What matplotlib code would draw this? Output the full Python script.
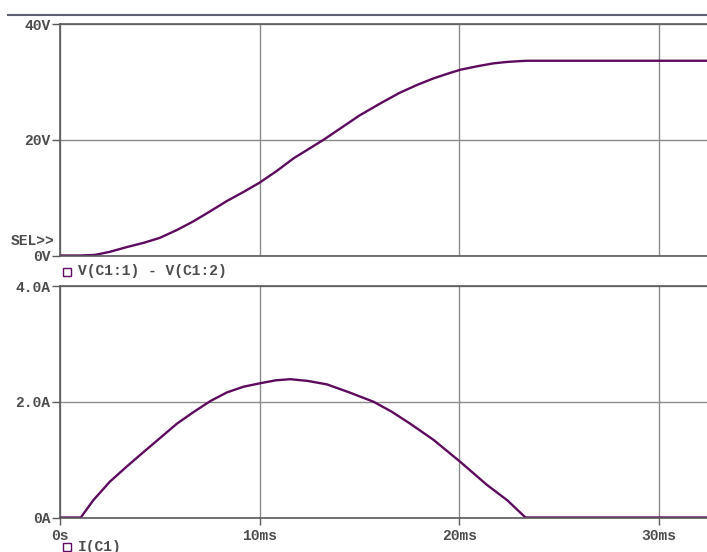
import matplotlib
matplotlib.use("Agg")
import matplotlib.pyplot as plt
from matplotlib.lines import Line2D

# ---- data (time in ms) ----
t_v = [0, 1.0, 1.75, 2.5, 3.34, 4.2, 5.0, 5.85, 6.68, 7.5, 8.35, 9.2, 10.0, 10.85,
       11.7, 12.5, 13.2, 14.1, 15.0, 16.0, 17.0, 17.9, 18.7, 19.4, 20.05, 20.9,
       21.7, 22.4, 23.1, 23.4, 32.5]
v_c = [0, 0, 0.1, 0.64, 1.45, 2.2, 3.05, 4.4, 5.9, 7.6, 9.4, 11.0, 12.6, 14.6,
       16.8, 18.5, 20.0, 22.1, 24.2, 26.2, 28.1, 29.5, 30.6, 31.4, 32.1, 32.7,
       33.2, 33.45, 33.6, 33.65, 33.65]

t_i = [0, 1.04, 1.67, 2.5, 3.34, 4.18, 5.0, 5.85, 6.68, 7.52, 8.35, 9.19, 10.03,
       10.8, 11.53, 12.4, 13.37, 14.5, 15.7, 16.6, 17.54, 18.71, 20.05, 21.39,
       22.39, 23.31, 32.5]
i_c = [0, 0, 0.30, 0.62, 0.88, 1.13, 1.37, 1.62, 1.82, 2.01, 2.16, 2.26, 2.32,
       2.37, 2.39, 2.36, 2.30, 2.16, 2.0, 1.83, 1.62, 1.34, 0.96, 0.56,
       0.30, 0.0, 0.0]

x_ticks = [0, 10, 20, 30]
x_labels = ["0s", "10ms", "20ms", "30ms"]
v_ticks = [0, 20, 40]
v_labels = ["0V", "20V", "40V"]
i_ticks = [0, 2, 4]
i_labels = ["0A", "2.0A", "4.0A"]

trace_label_v = "V(C1:1) - V(C1:2)"
trace_label_i = "I(C1)"

# ---- style ----
W, H = 707, 552
LINE = "#5e0a5e"
AXC = "#5a5a5a"
GRID = "#8a8a8a"
TXT = "#4c4c4c"
FONT = "Liberation Mono"
FS = 10.5

fig = plt.figure(figsize=(W / 100, H / 100), dpi=100)
fig.patch.set_facecolor("white")

def fx(px):
    return px / W

def fy(py):
    return 1 - py / H

left = fx(60)
wfrac = 1 - left + 0.01

ax1 = fig.add_axes([left, fy(255.5), wfrac, fy(24) - fy(255.5)])
ax2 = fig.add_axes([left, fy(517.5), wfrac, fy(286) - fy(517.5)])

for ax, yt, yl, ylim in [(ax1, v_ticks, v_labels, (0, 40)), (ax2, i_ticks, i_labels, (0, 4))]:
    ax.set_xlim(0, wfrac * W / 19.97)
    ax.set_ylim(*ylim)
    ax.set_yticks(yt)
    ax.set_yticklabels(yl, family=FONT, fontsize=FS, color=TXT, fontweight="bold")
    ax.set_xticks(x_ticks)
    for s in ["left", "top", "bottom"]:
        ax.spines[s].set_color(AXC)
        ax.spines[s].set_linewidth(1.2)
    ax.spines["right"].set_visible(False)
    ax.grid(True, color=GRID, linewidth=1.0)
    ax.set_axisbelow(True)
    ax.tick_params(axis="y", direction="out", length=6, width=1, color=AXC, pad=1)

ax1.tick_params(axis="x", length=0, labelbottom=False)
ax2.tick_params(axis="x", direction="out", length=5, width=1, color=AXC, pad=3)
ax2.set_xticklabels(x_labels, family=FONT, fontsize=FS, color=TXT, fontweight="bold")

ax1.plot(t_v, v_c, color=LINE, linewidth=1.7, solid_joinstyle="round")
ax2.plot(t_i, i_c, color=LINE, linewidth=1.7, solid_joinstyle="round")

# window border line at top
fig.add_artist(Line2D([fx(8), 1], [fy(14.5), fy(14.5)], color="#5c6070", linewidth=1.5))

# trace labels
def legend(py, label):
    fig.add_artist(Line2D([fx(66.5)], [fy(py)], marker="s", markersize=5.2,
                          markerfacecolor="white", markeredgecolor=LINE,
                          markeredgewidth=1.0, linestyle="none"))
    fig.text(fx(78), fy(py), label, family=FONT, fontsize=FS, color=TXT,
             va="center", ha="left", fontweight="bold")

legend(271.5, trace_label_v)
legend(546.5, trace_label_i)
fig.text(fx(11), fy(241), "SEL>>", family=FONT, fontsize=FS, color=TXT,
         va="center", ha="left", fontweight="bold")

fig.savefig("out.png", dpi=100, facecolor="white")
